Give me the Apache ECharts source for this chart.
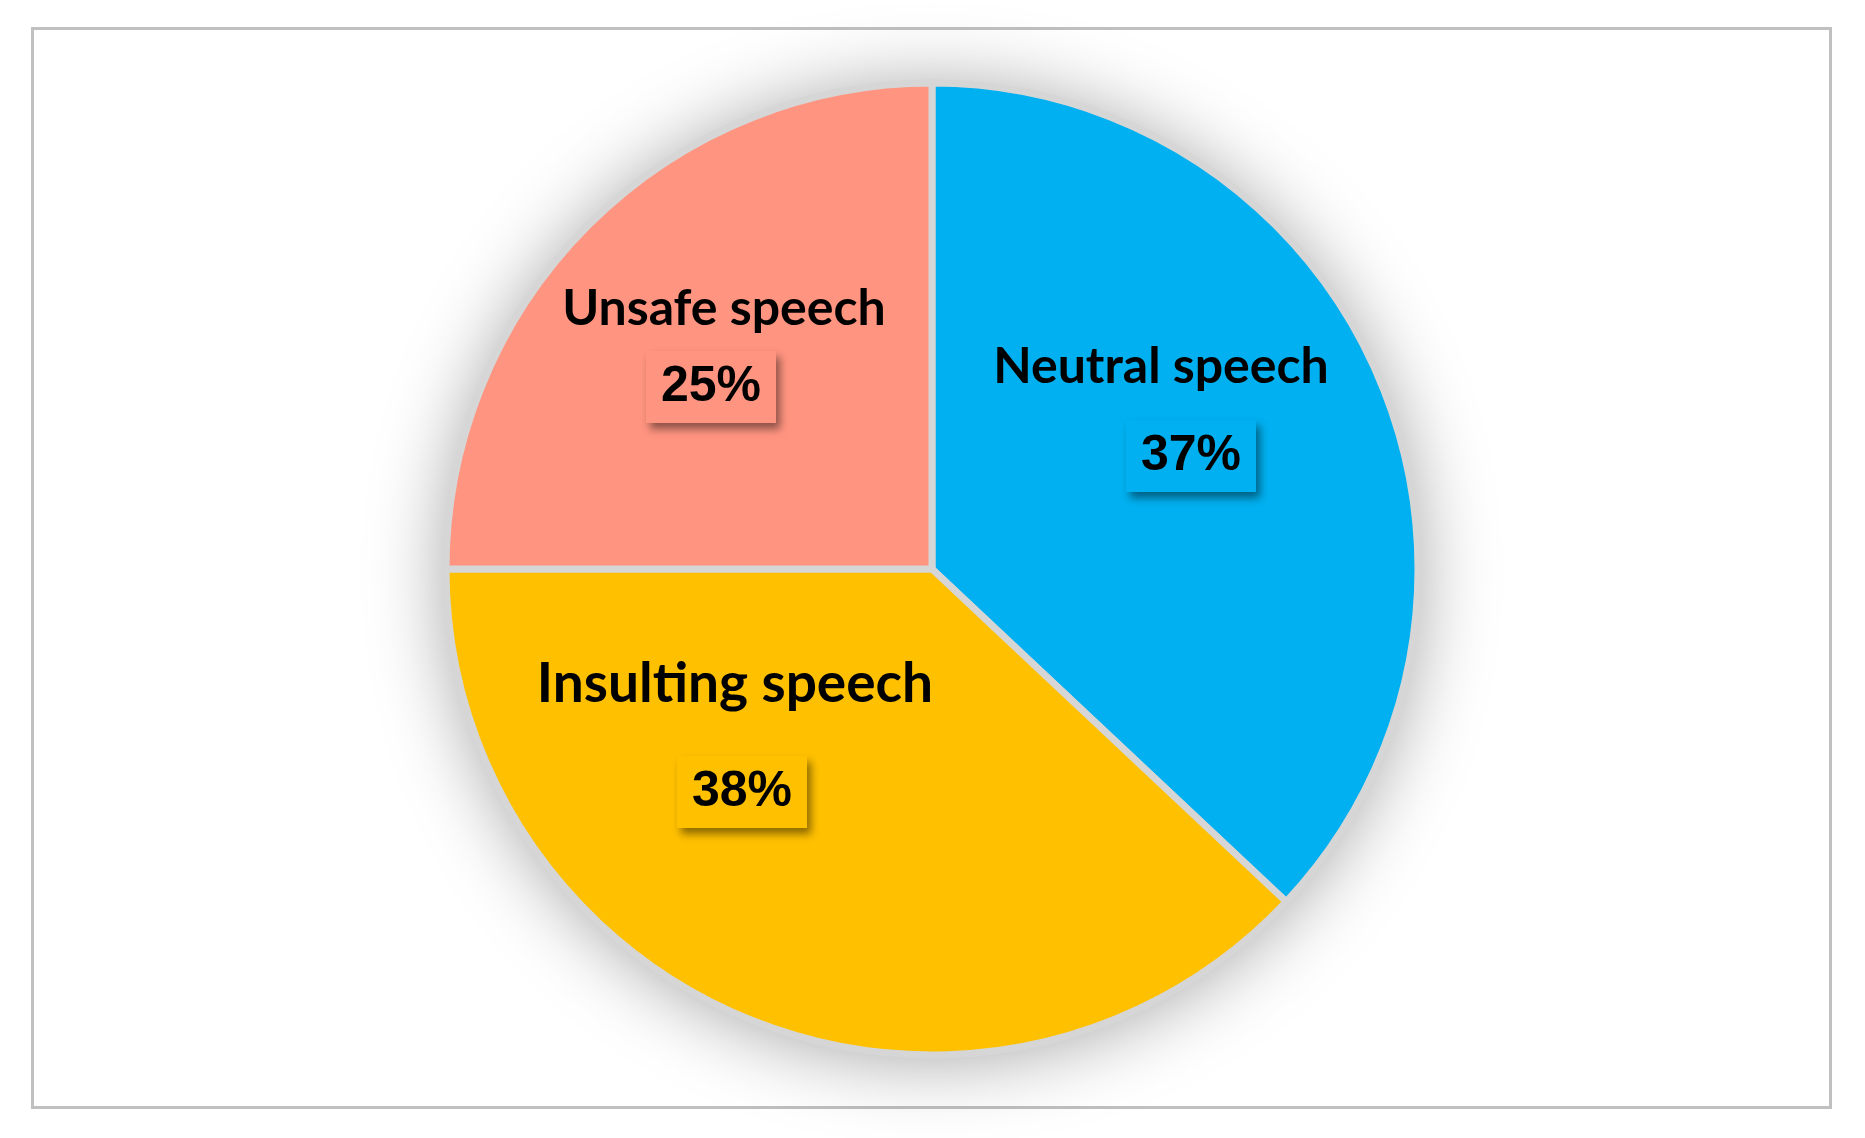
<!DOCTYPE html>
<html>
<head>
<meta charset="utf-8">
<script src="https://cdn.jsdelivr.net/npm/echarts@6/dist/echarts.min.js"></script>
<style>
  html, body { margin: 0; padding: 0; background: #fff; }
  #main { width: 1865px; height: 1138px; }
</style>
</head>
<body>
<div id="main"></div>
<script>
var categories = ['Neutral speech', 'Insulting speech', 'Unsafe speech'];
var shares = [37, 38, 25];
var colors = ['#00B0F0', '#FFC000', '#FF9480'];

// label anchors (px) for the name and the percentage box of each slice
var namePos = [[1161, 367], [735, 684], [724, 309]];
var nameSize = [50, 55, 50];
var pctPos = [[1191, 456], [742, 792], [711, 387]];

var pieCenter = [932, 569];
var pieRadius = 486;

var myChart = echarts.init(document.getElementById('main'));

var sliceData = categories.map(function (name, i) {
    return {
        name: name,
        value: shares[i],
        itemStyle: { color: colors[i] },
        label: { fontSize: nameSize[i] }
    };
});

var pctData = categories.map(function (name, i) {
    return {
        name: name,
        value: shares[i],
        label: { backgroundColor: colors[i] }
    };
});

var option = {
    backgroundColor: '#fff',
    animation: false,
    graphic: [{
        type: 'rect',
        shape: { x: 32.5, y: 28.5, width: 1798, height: 1079 },
        style: { fill: 'none', stroke: '#c0c0c0', lineWidth: 3 },
        silent: true
    }],
    series: [
        {
            // soft shadow behind the whole pie, also fills the gaps
            type: 'pie',
            center: pieCenter,
            radius: pieRadius - 2,
            silent: true,
            label: { show: false },
            itemStyle: {
                color: '#d6d6d6',
                shadowBlur: 80,
                shadowColor: 'rgba(0,0,0,0.38)',
                shadowOffsetY: 4
            },
            data: [{ name: 'bg', value: 1 }]
        },
        {
            type: 'pie',
            center: pieCenter,
            radius: pieRadius,
            startAngle: 90,
            clockwise: true,
            itemStyle: { borderColor: '#d6d6d6', borderWidth: 7 },
            label: {
                show: true,
                position: 'inside',
                formatter: '{b}',
                color: '#000',
                fontFamily: 'Lato',
                fontWeight: 'bold',
                fontSize: 50
            },
            labelLayout: function (p) {
                var pos = namePos[p.dataIndex];
                return { x: pos[0], y: pos[1], align: 'center', verticalAlign: 'middle' };
            },
            emphasis: { disabled: true },
            data: sliceData
        },
        {
            type: 'pie',
            center: pieCenter,
            radius: pieRadius,
            startAngle: 90,
            clockwise: true,
            silent: true,
            itemStyle: { color: 'transparent' },
            label: {
                show: true,
                position: 'inside',
                formatter: function (p) { return Math.round(p.percent) + '%'; },
                color: '#000',
                fontFamily: 'Liberation Sans',
                fontWeight: 'bold',
                fontSize: 50,
                lineHeight: 56,
                padding: [8, 15],
                shadowBlur: 8,
                shadowColor: 'rgba(0,0,0,0.45)',
                shadowOffsetX: 4,
                shadowOffsetY: 6
            },
            labelLayout: function (p) {
                var pos = pctPos[p.dataIndex];
                return { x: pos[0], y: pos[1], align: 'center', verticalAlign: 'middle' };
            },
            data: pctData
        }
    ]
};

myChart.setOption(option);
</script>
</body>
</html>
